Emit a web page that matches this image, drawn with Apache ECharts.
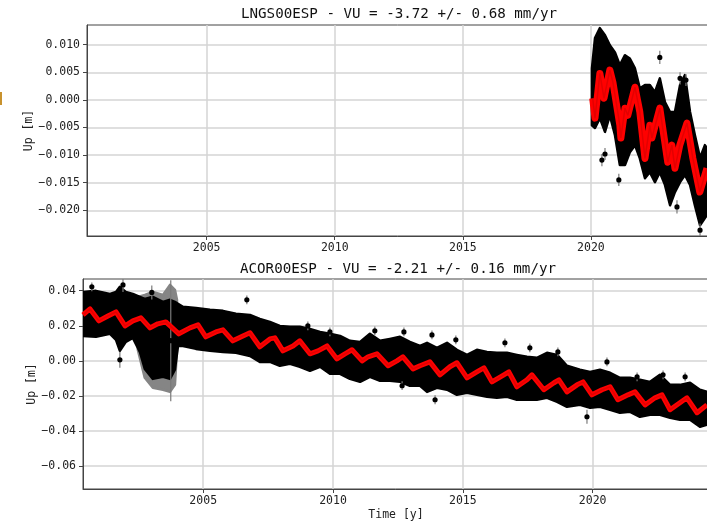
<!DOCTYPE html>
<html>
<head>
<meta charset="utf-8">
<title>VU time series</title>
<script src="https://cdn.jsdelivr.net/npm/echarts@6/dist/echarts.min.js"></script>
<style>
  html, body { margin: 0; padding: 0; background: #fff; }
  #chart { width: 707px; height: 521px; }
</style>
</head>
<body>
<div id="chart"></div>
<script>
// ---- LNGS00ESP (top panel) ----
// spread of the daily solutions (upper / lower edge of the black cloud)
var lngsCloudYears = [2020.04, 2020.16, 2020.35, 2020.55, 2020.74, 2020.94, 2021.13, 2021.33, 2021.52, 2021.72, 2021.91, 2022.11, 2022.30,
                      2022.50, 2022.69, 2022.89, 2023.09, 2023.28, 2023.48, 2023.67, 2023.87, 2024.06, 2024.26, 2024.45, 2024.53];
var lngsCloudUpper = [0.0057, 0.0112, 0.0130, 0.0117, 0.0099, 0.0086, 0.0063, 0.0081, 0.0075, 0.0057, 0.0021, 0.0027, 0.0027,
                      0.0014, 0.0039, -0.0004, -0.0022, -0.0022, 0.0027, 0.0045, -0.0022, -0.0064, -0.0105, -0.0082, -0.0087];
var lngsCloudLower = [-0.0046, -0.0051, -0.0033, -0.0058, -0.0028, -0.0064, -0.0118, -0.0118, -0.0095, -0.0082, -0.0106, -0.0142, -0.0131,
                      -0.0149, -0.0131, -0.0154, -0.0191, -0.0167, -0.0149, -0.0136, -0.0154, -0.0191, -0.0227, -0.0214, -0.0209];
// fitted model (red)
var lngsModelYears = [2020.07, 2020.16, 2020.35, 2020.51, 2020.74, 2020.86, 2021.13, 2021.17, 2021.33, 2021.44, 2021.72, 2021.91,
                      2022.11, 2022.30, 2022.38, 2022.69, 2023.00, 2023.16, 2023.28, 2023.47, 2023.75, 2023.98, 2024.25, 2024.53];
var lngsModelUp    = [0.0003, -0.0033, 0.0048, 0.0003, 0.0054, 0.0032, -0.0046, -0.0069, -0.0015, -0.0028, 0.0023, -0.0022,
                      -0.0106, -0.0046, -0.0069, -0.0015, -0.0113, -0.0082, -0.0124, -0.0082, -0.0042, -0.0106, -0.0167, -0.0124];
// isolated points with error bars
var lngsDotYears = [2020.43, 2020.55, 2021.09, 2022.69, 2023.48, 2023.71, 2023.36, 2024.26];
var lngsDotUp    = [-0.0109, -0.0098, -0.0145, 0.0077, 0.0039, 0.0036, -0.0194, -0.0236];
var lngsDotErr   = [0.0011, 0.0011, 0.0011, 0.0012, 0.0011, 0.0011, 0.0012, 0.0012];

// ---- ACOR00ESP (bottom panel) ----
var acorCloudYears = [2000.37, 2000.87, 2001.41, 2001.64, 2001.79, 2002.02, 2002.29, 2002.56, 2002.75, 2003.06, 2003.45, 2003.72, 2003.91,
                      2004.03, 2004.22, 2004.72, 2005.26, 2005.76, 2006.26, 2006.80, 2007.18, 2007.57, 2007.95, 2008.34, 2008.72,
                      2009.11, 2009.50, 2009.88, 2010.27, 2010.65, 2011.04, 2011.42, 2011.81, 2012.19, 2012.58, 2012.96, 2013.35,
                      2013.62, 2014.00, 2014.39, 2014.77, 2015.16, 2015.54, 2015.93, 2016.31, 2016.70, 2017.08, 2017.47, 2017.85,
                      2018.24, 2018.63, 2019.01, 2019.51, 2019.90, 2020.28, 2020.67, 2021.05, 2021.44, 2021.82, 2022.21, 2022.59,
                      2022.98, 2023.36, 2023.75, 2024.13, 2024.40];
var acorCloudUpper = [0.0393, 0.0399, 0.0382, 0.0393, 0.0422, 0.0393, 0.0382, 0.0365, 0.0353, 0.0365, 0.0336, 0.0348, 0.0336,
                      0.0325, 0.0308, 0.0302, 0.0291, 0.0285, 0.0268, 0.0262, 0.0239, 0.0222, 0.0199, 0.0194, 0.0194,
                      0.0182, 0.0165, 0.0154, 0.0142, 0.0114, 0.0108, 0.0154, 0.0114, 0.0125, 0.0137, 0.0108, 0.0085,
                      0.0103, 0.0074, 0.0103, 0.0063, 0.0034, 0.0063, 0.0051, 0.0046, 0.0046, 0.0034, 0.0023, 0.0017,
                      0.0046, 0.0034, -0.0028, -0.0051, -0.0063, -0.0051, -0.0068, -0.0097, -0.0097, -0.0108, -0.0120, -0.0080,
                      -0.0137, -0.0137, -0.0125, -0.0165, -0.0177];
var acorCloudLower = [0.0142, 0.0137, 0.0154, 0.0120, 0.0057, 0.0108, 0.0131, 0.0051, -0.0046, -0.0103, -0.0091, -0.0103, -0.0051,
                      0.0085, 0.0085, 0.0068, 0.0057, 0.0051, 0.0046, 0.0028, -0.0006, -0.0006, -0.0028, -0.0017, -0.0034,
                      -0.0057, -0.0034, -0.0074, -0.0074, -0.0103, -0.0120, -0.0091, -0.0114, -0.0114, -0.0120, -0.0142, -0.0142,
                      -0.0177, -0.0154, -0.0165, -0.0194, -0.0182, -0.0194, -0.0205, -0.0211, -0.0205, -0.0222, -0.0222, -0.0222,
                      -0.0211, -0.0234, -0.0262, -0.0251, -0.0268, -0.0262, -0.0279, -0.0296, -0.0291, -0.0319, -0.0308, -0.0308,
                      -0.0325, -0.0336, -0.0336, -0.0376, -0.0365];
// 2002.5-2004: noisy stretch, long grey error bars
var acorGreyYears = [2002.48, 2002.75, 2003.06, 2003.45, 2003.72, 2003.91, 2003.99];
var acorGreyUpper = [0.0365, 0.0376, 0.0393, 0.0376, 0.0433, 0.0405, 0.0348];
var acorGreyLower = [0.0063, -0.0097, -0.0154, -0.0165, -0.0177, -0.0137, 0.0063];
var acorModelYears = [2000.37, 2000.64, 2000.98, 2001.33, 2001.64, 2001.99, 2002.29, 2002.60, 2002.95, 2003.25, 2003.56, 2004.06,
                      2004.49, 2004.80, 2005.10, 2005.49, 2005.76, 2006.14, 2006.53, 2006.80, 2007.18, 2007.57, 2007.76, 2008.07,
                      2008.46, 2008.72, 2009.11, 2009.42, 2009.77, 2010.15, 2010.46, 2010.73, 2011.12, 2011.35, 2011.69, 2012.12,
                      2012.46, 2012.69, 2013.08, 2013.35, 2013.73, 2014.12, 2014.50, 2014.77, 2015.16, 2015.54, 2015.81, 2016.12,
                      2016.58, 2016.77, 2017.08, 2017.47, 2017.66, 2018.12, 2018.51, 2018.70, 2019.01, 2019.40, 2019.63, 2019.97,
                      2020.36, 2020.67, 2020.97, 2021.36, 2021.63, 2022.02, 2022.40, 2022.67, 2022.98, 2023.36, 2023.63, 2024.02, 2024.40];
var acorModelUp    = [0.0262, 0.0296, 0.0228, 0.0256, 0.0279, 0.0199, 0.0228, 0.0245, 0.0188, 0.0211, 0.0222, 0.0154,
                      0.0188, 0.0205, 0.0137, 0.0165, 0.0177, 0.0114, 0.0142, 0.0160, 0.0080, 0.0125, 0.0131, 0.0057,
                      0.0085, 0.0114, 0.0040, 0.0057, 0.0085, 0.0011, 0.0040, 0.0063, 0.0000, 0.0023, 0.0040, -0.0028,
                      0.0000, 0.0023, -0.0046, -0.0028, -0.0006, -0.0080, -0.0034, -0.0011, -0.0097, -0.0063, -0.0040, -0.0120,
                      -0.0080, -0.0063, -0.0148, -0.0108, -0.0080, -0.0165, -0.0125, -0.0108, -0.0177, -0.0137, -0.0120, -0.0194,
                      -0.0165, -0.0148, -0.0222, -0.0194, -0.0177, -0.0251, -0.0211, -0.0194, -0.0279, -0.0239, -0.0211, -0.0296, -0.0251];
var acorDotYears = [2000.71, 2001.91, 2001.79, 2003.02, 2003.75, 2006.68, 2009.03, 2009.88, 2011.61, 2012.66, 2012.73, 2013.81,
                    2013.93, 2014.73, 2016.62, 2017.58, 2018.66, 2019.78, 2020.55, 2021.71, 2022.71, 2023.56];
var acorDotUp    = [0.0422, 0.0433, 0.0006, 0.0390, 0.0115, 0.0348, 0.0199, 0.0165, 0.0171, -0.0142, 0.0165, 0.0148,
                    -0.0222, 0.0120, 0.0103, 0.0074, 0.0051, -0.0319, -0.0006, -0.0091, -0.0080, -0.0091];
var acorDotErr   = [0.0025, 0.0040, 0.0045, 0.0040, 0.0345, 0.0025, 0.0025, 0.0025, 0.0025, 0.0025, 0.0025, 0.0025,
                    0.0025, 0.0025, 0.0025, 0.0025, 0.0025, 0.0040, 0.0025, 0.0025, 0.0025, 0.0025];

var yearTicks   = [2005, 2010, 2015, 2020];
var lngsUpTicks = [-0.02, -0.015, -0.01, -0.005, 0, 0.005, 0.01];
var acorUpTicks = [-0.06, -0.04, -0.02, 0, 0.02, 0.04];

var MONO = 'DejaVu Sans Mono';

function minusSign(v, digits) {
    var s = Math.abs(v).toFixed(digits);
    return (v < -1e-12 ? '\u2212' : '') + s;
}

// filled band between two edges, drawn as one polygon
function bandSeries(idx, years, upper, lower, color, z) {
    return {
        type: 'custom', xAxisIndex: idx, yAxisIndex: idx, silent: true, clip: true, z: z,
        data: years.map(function (t, i) { return [t, upper[i], lower[i]]; }),
        renderItem: function (params, api) {
            if (params.dataIndex !== 0) return null;
            var pts = [];
            for (var i = 0; i < years.length; i++) pts.push(api.coord([years[i], upper[i]]));
            for (var j = years.length - 1; j >= 0; j--) pts.push(api.coord([years[j], lower[j]]));
            return { type: 'polygon', shape: { points: pts },
                     style: { fill: color, stroke: color, lineWidth: 2.5, lineJoin: 'round' } };
        }
    };
}

// single points with vertical error bars
function dotSeries(idx, years, ups, errs, z) {
    return {
        type: 'custom', xAxisIndex: idx, yAxisIndex: idx, silent: true, clip: true, z: z,
        data: years.map(function (t, i) { return [t, ups[i], errs[i]]; }),
        renderItem: function (params, api) {
            var c  = api.coord([api.value(0), api.value(1)]);
            var hi = api.coord([api.value(0), api.value(1) + api.value(2)]);
            var lo = api.coord([api.value(0), api.value(1) - api.value(2)]);
            return { type: 'group', children: [
                { type: 'line', shape: { x1: c[0], y1: hi[1], x2: c[0], y2: lo[1] }, style: { stroke: '#7a7a7a', lineWidth: 1.2 } },
                { type: 'circle', shape: { cx: c[0], cy: c[1], r: 2.6 }, style: { fill: '#000' } }
            ]};
        }
    };
}

function modelSeries(idx, years, ups, width) {
    return [{
        type: 'line', xAxisIndex: idx, yAxisIndex: idx, showSymbol: false, silent: true, z: 5,
        data: years.map(function (t, i) { return [t, ups[i]]; }),
        lineStyle: { color: '#ff0000', width: width, join: 'round' }
    }, {
        type: 'line', xAxisIndex: idx, yAxisIndex: idx, showSymbol: false, silent: true, z: 6,
        data: years.map(function (t, i) { return [t, ups[i]]; }),
        lineStyle: { color: '#c00000', width: 1.5, opacity: 0.45 }
    }];
}

function xAxisCfg(idx, min, max, withName) {
    var ax = {
        type: 'value', gridIndex: idx, min: min, max: max,
        axisLine: { show: true, onZero: false, lineStyle: { color: '#444', width: 1 } },
        axisTick: { show: true, length: 4, customValues: yearTicks, lineStyle: { color: '#444' } },
        axisLabel: { customValues: yearTicks, margin: 6, color: '#222', fontFamily: MONO, fontSize: 11.5,
                     formatter: function (v) { return String(Math.round(v)); } },
        splitLine: { show: true, lineStyle: { color: '#d4d4d4', width: 1.5 } }
    };
    if (withName) {
        ax.name = 'Time [y]';
        ax.nameLocation = 'middle';
        ax.nameGap = 20;
        ax.nameMoveOverlap = false;
        ax.nameTextStyle = { color: '#222', fontFamily: MONO, fontSize: 11.5 };
    }
    return ax;
}

function yAxisCfg(idx, min, max, ticks, digits, gap) {
    return {
        type: 'value', gridIndex: idx, min: min, max: max,
        name: 'Up [m]', nameLocation: 'middle', nameGap: gap, nameMoveOverlap: false,
        nameTextStyle: { color: '#222', fontFamily: MONO, fontSize: 11.5 },
        axisLine: { show: true, lineStyle: { color: '#444', width: 1 } },
        axisTick: { show: true, length: 4, customValues: ticks, lineStyle: { color: '#444' } },
        axisLabel: { customValues: ticks, margin: 7, color: '#222', fontFamily: MONO, fontSize: 11.5,
                     formatter: function (v) { return minusSign(v, digits); } },
        splitLine: { show: true, lineStyle: { color: '#d4d4d4', width: 1.5 } }
    };
}

var chart = echarts.init(document.getElementById('chart'), null, { renderer: 'canvas' });

var series = [];
series.push(bandSeries(0, lngsCloudYears, lngsCloudUpper, lngsCloudLower, '#000', 2));
series.push(dotSeries(0, lngsDotYears, lngsDotUp, lngsDotErr, 3));
series = series.concat(modelSeries(0, lngsModelYears, lngsModelUp, 7));
series.push(bandSeries(1, acorGreyYears, acorGreyUpper, acorGreyLower, '#858585', 1));
series.push(bandSeries(1, acorCloudYears, acorCloudUpper, acorCloudLower, '#000', 2));
series.push(dotSeries(1, acorDotYears, acorDotUp, acorDotErr, 3));
series = series.concat(modelSeries(1, acorModelYears, acorModelUp, 5));

chart.setOption({
    animation: false,
    backgroundColor: '#fff',
    title: [
        { text: 'LNGS00ESP - VU = -3.72 +/- 0.68 mm/yr', left: 394, top: 2, textAlign: 'center',
          textStyle: { fontFamily: MONO, fontSize: 14.2, fontWeight: 'normal', color: '#111' } },
        { text: 'ACOR00ESP - VU = -2.21 +/- 0.16 mm/yr', left: 393, top: 257, textAlign: 'center',
          textStyle: { fontFamily: MONO, fontSize: 14.2, fontWeight: 'normal', color: '#111' } }
    ],
    grid: [
        { left: 87, right: -2, top: 25, height: 211, show: true, borderColor: '#444', borderWidth: 1, outerBoundsMode: 'none' },
        { left: 83, right: -2, top: 279, height: 210, show: true, borderColor: '#444', borderWidth: 1, outerBoundsMode: 'none' }
    ],
    xAxis: [
        xAxisCfg(0, 2000.33, 2024.61, false),
        xAxisCfg(1, 2000.37, 2024.48, true)
    ],
    yAxis: [
        yAxisCfg(0, -0.02466, 0.01357, lngsUpTicks, 3, 52),
        yAxisCfg(1, -0.0731, 0.04667, acorUpTicks, 2, 44.5)
    ],
    graphic: [
        { type: 'rect', left: 0, top: 92, shape: { width: 2, height: 13 }, style: { fill: '#c8922e' } }
    ],
    series: series
});
</script>
</body>
</html>
